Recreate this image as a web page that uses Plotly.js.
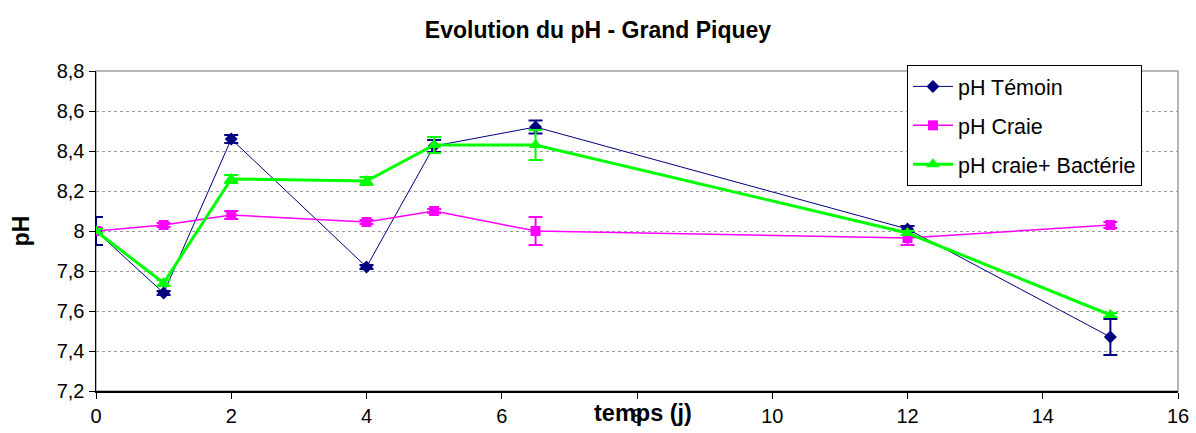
<!DOCTYPE html>
<html>
<head>
<meta charset="utf-8">
<script src="https://cdn.plot.ly/plotly-3.0.1.min.js"></script>
<style>
  html, body { margin: 0; padding: 0; background: #ffffff; }
  #chart { width: 1196px; height: 433px; }
</style>
</head>
<body>
<div id="chart"></div>
<script>
// ---- Data ----
const timeDays = [0, 1, 2, 4, 5, 6.5, 12, 15];

const phTemoin    = [8.00, 7.69, 8.46, 7.82, 8.425, 8.52, 8.01, 7.47];
const phTemoinErr = [0.07, 0.01, 0.02, 0.01, 0.03, 0.033, 0.015, 0.09];

const phCraie     = [8.00, 8.03, 8.08, 8.045, 8.10, 8.00, 7.965, 8.03];
const phCraieErr  = [0.015, 0.01, 0.02, 0.01, 0.01, 0.07, 0.035, 0.015];

const phBact      = [8.00, 7.74, 8.26, 8.25, 8.43, 8.43, 7.99, 7.58];
const phBactErr   = [0.01, 0.015, 0.02, 0.02, 0.04, 0.075, 0.01, 0.01];

const seriesNames = ["pH Témoin", "pH Craie", "pH craie+ Bactérie"];
const xTickVals = [0, 2, 4, 6, 8, 10, 12, 14, 16];
const yTickVals = [7.2, 7.4, 7.6, 7.8, 8, 8.2, 8.4, 8.6, 8.8];

const chartTitle = "Evolution du pH - Grand Piquey";
const xTitle = "temps (j)";
const yTitle = "pH";

const FONT = "Liberation Sans, Arial, sans-serif";

const traces = [
  {
    x: timeDays, y: phTemoin, name: seriesNames[0], legendgroup: "a",
    type: "scatter", mode: "lines+markers",
    line: { color: "#000080", width: 1 },
    marker: { symbol: "diamond", size: 10, color: "#000080" },
    error_y: { type: "data", array: phTemoinErr, visible: true, color: "#000080", thickness: 2, width: 7 }
  },
  {
    x: timeDays, y: phCraie, name: seriesNames[1], legendgroup: "b",
    type: "scatter", mode: "lines+markers",
    line: { color: "#FF00FF", width: 1.5 },
    marker: { symbol: "square", size: 10, color: "#FF00FF" },
    error_y: { type: "data", array: phCraieErr, visible: true, color: "#FF00FF", thickness: 2, width: 7 }
  },
  {
    x: timeDays, y: phBact, name: seriesNames[2], legendgroup: "c",
    type: "scatter", mode: "lines+markers",
    line: { color: "#00FF00", width: 3 },
    marker: { symbol: "triangle-up", size: 12, color: "#00FF00" },
    error_y: { type: "data", array: phBactErr, visible: true, color: "#00FF00", thickness: 2, width: 7 }
  }
];

const layout = {
  width: 1196, height: 433,
  margin: { l: 96, r: 18, t: 71, b: 42, pad: 0 },
  paper_bgcolor: "#ffffff",
  plot_bgcolor: "#ffffff",
  separators: ", ",
  font: { family: FONT, color: "#000000", size: 20 },
  showlegend: true,
  title: {
    text: chartTitle,
    font: { family: FONT, size: 23, color: "#000000", weight: "bold" },
    xref: "container", x: 0.5, xanchor: "center",
    yref: "container", y: 0.93, yanchor: "middle"
  },
  xaxis: {
    range: [0, 16],
    tickvals: xTickVals,
    ticks: "outside", ticklen: 6, tickcolor: "#000000", tickwidth: 1,
    showline: true, linecolor: "#000000", linewidth: 1.5,
    showgrid: false, zeroline: false,
    tickfont: { family: FONT, size: 20, color: "#000000" }
  },
  yaxis: {
    range: [7.2, 8.8],
    tickvals: yTickVals,
    ticks: "outside", ticklen: 6, tickcolor: "#000000", tickwidth: 1,
    showline: true, linecolor: "#000000", linewidth: 1.5,
    showgrid: true, gridcolor: "#9a9a9a", griddash: "dot", gridwidth: 1,
    zeroline: false,
    tickfont: { family: FONT, size: 20, color: "#000000" },
    title: { text: yTitle, font: { family: FONT, size: 23, color: "#000000", weight: "bold" }, standoff: 20 }
  },
  legend: {
    x: 0.7495, y: 1.019, xanchor: "left", yanchor: "top",
    bgcolor: "#ffffff", bordercolor: "#000000", borderwidth: 1,
    font: { family: FONT, size: 21.5, color: "#000000" },
    tracegroupgap: 8,
    itemwidth: 40
  },
  shapes: [
    { type: "rect", xref: "paper", yref: "paper", x0: 0, x1: 1, y0: 0, y1: 1,
      line: { color: "#a0a0a0", width: 1.5 }, layer: "below" }
  ],
  annotations: [
    { text: xTitle, xref: "paper", yref: "paper", x: 0.506, y: -0.069,
      xanchor: "center", yanchor: "middle", showarrow: false,
      font: { family: FONT, size: 23.5, color: "#000000", weight: "bold" } }
  ]
};

Plotly.newPlot("chart", traces, layout, { displayModeBar: false, staticPlot: true });
</script>
</body>
</html>
